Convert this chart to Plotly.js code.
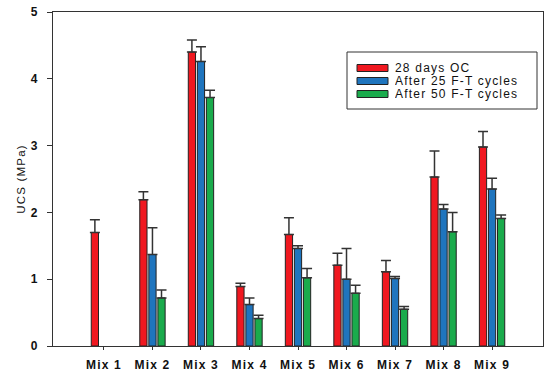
<!DOCTYPE html>
<html>
<head>
<meta charset="utf-8">
<script src="https://cdn.plot.ly/plotly-3.0.1.min.js"></script>
<style>
html,body{margin:0;padding:0;background:#fff;}
#chart{width:550px;height:373px;}
#chart .xtick text, #chart .ytick text, #chart .ytitle, #chart .annotation-text{letter-spacing:1.2px;}
</style>
</head>
<body>
<div id="chart"></div>
<script>
const categories = ["Mix 1","Mix 2","Mix 3","Mix 4","Mix 5","Mix 6","Mix 7","Mix 8","Mix 9"];
const seriesNames = ["28 days OC","After 25 F-T cycles","After 50 F-T cycles"];
const oc28 = [1.70, 2.19, 4.40, 0.89, 1.67, 1.21, 1.11, 2.53, 2.98];
const oc28Err = [0.19, 0.12, 0.18, 0.05, 0.25, 0.18, 0.17, 0.39, 0.23];
const ft25 = [null, 1.37, 4.26, 0.62, 1.46, 1.00, 1.01, 2.05, 2.35];
const ft25Err = [null, 0.40, 0.22, 0.10, 0.04, 0.46, 0.03, 0.07, 0.16];
const ft50 = [null, 0.72, 3.72, 0.41, 1.02, 0.79, 0.55, 1.71, 1.91];
const ft50Err = [null, 0.12, 0.11, 0.05, 0.14, 0.12, 0.04, 0.29, 0.05];
const yTicks = [0, 1, 2, 3, 4, 5];

const colors = ["#f01820", "#1f75be", "#1aab4c"];
const vals = [oc28, ft25, ft50];
const errs = [oc28Err, ft25Err, ft50Err];
const FONT = "Liberation Sans, Arial, sans-serif";

const traces = vals.map((v, i) => ({
  type: "bar",
  name: seriesNames[i],
  x: categories,
  y: v,
  showlegend: false,
  marker: {color: colors[i], line: {color: "#222", width: 1}},
  error_y: {type: "data", symmetric: false, array: errs[i], arrayminus: errs[i].map(() => 0),
            color: "#333", thickness: 1.5, width: 5},
}));

// custom legend (paper coordinates of the plot area: 490 x 334 px)
const px = x => (x - 53) / 490;
const py = y => (346 - y) / 334;
const shapes = [{
  type: "rect", xref: "paper", yref: "paper",
  x0: px(347), x1: px(537), y0: py(109), y1: py(52),
  line: {color: "#333", width: 1}, fillcolor: "#fff", layer: "above"
}];
const annotations = [];
seriesNames.forEach((name, i) => {
  const cy = 68 + 13 * i;
  shapes.push({
    type: "rect", xref: "paper", yref: "paper",
    x0: px(357), x1: px(388), y0: py(cy + 3.5), y1: py(cy - 3.5),
    line: {color: "#222", width: 1}, fillcolor: colors[i], layer: "above"
  });
  annotations.push({
    xref: "paper", yref: "paper", x: px(394), y: py(cy),
    xanchor: "left", yanchor: "middle", showarrow: false,
    width: 138, align: "left", borderpad: 0,
    text: name, font: {size: 12, family: FONT, color: "#111"}
  });
});

const layout = {
  width: 550, height: 373,
  margin: {l: 53, r: 7, t: 12, b: 27},
  paper_bgcolor: "#fff", plot_bgcolor: "#fff",
  font: {family: FONT, color: "#111"},
  barmode: "group",
  bargap: 0.44,
  bargroupgap: 0.2,
  showlegend: false,
  shapes: shapes,
  annotations: annotations,
  xaxis: {
    type: "category", range: [-1.05, 9.05],
    showline: true, linecolor: "#333", linewidth: 1, mirror: true,
    ticks: "outside", ticklen: 3, tickcolor: "#333",
    ticklabelstandoff: 5,
    tickfont: {size: 12, family: FONT, weight: "bold", color: "#111"},
    showgrid: false, zeroline: false
  },
  yaxis: {
    range: [0, 5], tickvals: yTicks, ticktext: yTicks.map(String),
    showline: true, linecolor: "#333", linewidth: 1, mirror: true,
    ticks: "outside", ticklen: 5, tickcolor: "#333",
    ticklabelstandoff: 6,
    tickfont: {size: 12, family: FONT, weight: "bold", color: "#111"},
    showgrid: false, zeroline: false,
    title: {text: "UCS (MPa)", font: {size: 11.5, family: FONT, color: "#111"}, standoff: 3}
  }
};

Plotly.newPlot("chart", traces, layout, {displayModeBar: false, staticPlot: true});
</script>
</body>
</html>
